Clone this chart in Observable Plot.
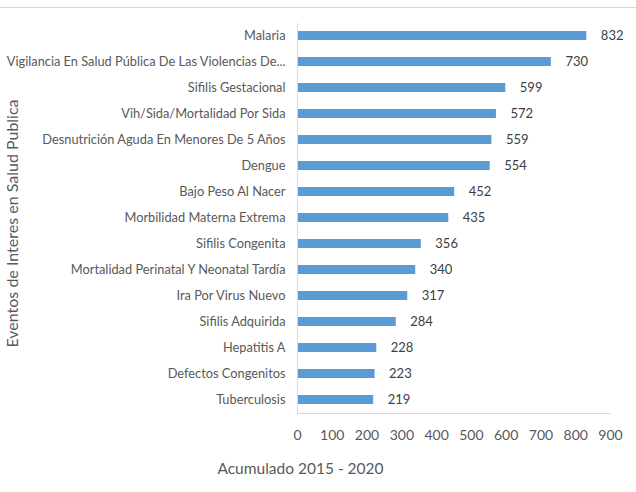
<!DOCTYPE html>
<html><head><meta charset="utf-8">
<script src="https://cdn.jsdelivr.net/npm/d3@7"></script>
<script src="https://cdn.jsdelivr.net/npm/@observablehq/plot@0.6"></script>
<style>
body{margin:0;background:#fff;}
#wrap{width:636px;height:492px;position:relative;}
#topline{position:absolute;left:0;top:7px;width:636px;border-top:1px solid #d9d9d9;}
svg{font-family:Lato,"Open Sans",sans-serif;}
</style></head><body>
<div id="wrap"><div id="topline"></div></div>
<script>
const categories = [
  "Malaria",
  "Vigilancia En Salud Pública De Las Violencias De...",
  "Sifilis Gestacional",
  "Vih/Sida/Mortalidad Por Sida",
  "Desnutrición Aguda En Menores De 5 Años",
  "Dengue",
  "Bajo Peso Al Nacer",
  "Morbilidad Materna Extrema",
  "Sifilis Congenita",
  "Mortalidad Perinatal Y Neonatal Tardía",
  "Ira Por Virus Nuevo",
  "Sifilis Adquirida",
  "Hepatitis A",
  "Defectos Congenitos",
  "Tuberculosis"
];
const values = [832, 730, 599, 572, 559, 554, 452, 435, 356, 340, 317, 284, 228, 223, 219];
const xTicks = [0, 100, 200, 300, 400, 500, 600, 700, 800, 900];
const xLabel = "Acumulado 2015 - 2020";
const yLabel = "Eventos de Interes en Salud Publica";

const data = categories.map((c, i) => ({category: c, value: values[i]}));

const chart = Plot.plot({
  width: 636,
  height: 492,
  marginLeft: 297,
  marginRight: 26,
  marginTop: 23,
  marginBottom: 79,
  x: {domain: [0, 900], ticks: xTicks},
  y: {domain: categories, paddingInner: 0.65, paddingOuter: 0.325},
  marks: [
    Plot.barX(data, {x: "value", y: "category", fill: "#5b9bd5"}),
    Plot.text(data, {x: "value", y: "category", text: d => String(d.value), textAnchor: "start", dx: 14, fontSize: 13, fill: "#404040"}),
    Plot.frame({anchor: "bottom", stroke: "#d9d9d9"}),
    Plot.ruleX([0], {stroke: "#d9d9d9", strokeWidth: 1}),
    Plot.axisX({ticks: xTicks, tickSize: 0, tickPadding: 17, fontSize: 14, color: "#595959", label: null}),
    Plot.axisY({tickSize: 0, tickPadding: 12, fontSize: 12.8, color: "#595959", label: null}),
    Plot.text([xLabel], {frameAnchor: "bottom-left", textAnchor: "middle", dx: 3, dy: 60, fontSize: 15.5, fill: "#595959"}),
    Plot.text([yLabel], {frameAnchor: "left", textAnchor: "middle", dx: -285, dy: 5, rotate: -90, fontSize: 16, fill: "#595959"})
  ]
});
document.getElementById("wrap").appendChild(chart);
</script>
</body></html>
